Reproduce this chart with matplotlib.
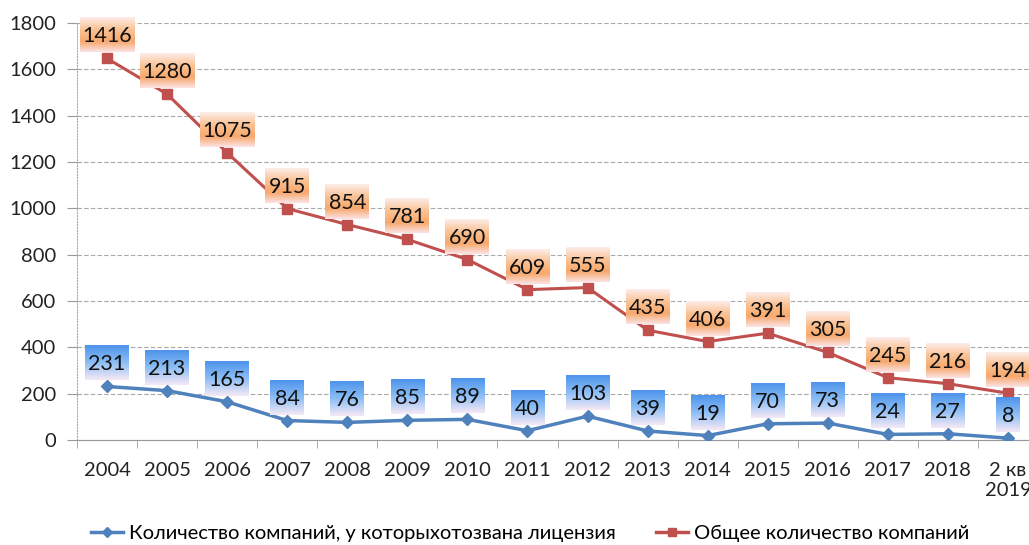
import numpy as np
import matplotlib.pyplot as plt
from matplotlib.lines import Line2D

years = ['2004', '2005', '2006', '2007', '2008', '2009', '2010', '2011',
         '2012', '2013', '2014', '2015', '2016', '2017', '2018', '2 кв\n2019']
revoked = [231, 213, 165, 84, 76, 85, 89, 40, 103, 39, 19, 70, 73, 24, 27, 8]
total = [1416, 1280, 1075, 915, 854, 781, 690, 609, 555, 435, 406, 391, 305, 245, 216, 194]

plt.rcParams['font.family'] = ['Lato', 'DejaVu Sans']

# stacked line chart: second series sits on top of the first
stacked = np.array(revoked) + np.array(total)
x = np.arange(len(years))

red = '#C0504D'
blue = '#4F81BD'


def gradient(stops):
    pos = [s[0] for s in stops]
    cols = np.array([s[1] for s in stops]) / 255.0
    t = np.linspace(0, 1, 64)
    g = np.stack([np.interp(t, pos, cols[:, i]) for i in range(3)], axis=1)
    return g[:, None, :]


grad_red = gradient([(0, (253, 236, 232)), (0.35, (250, 195, 150)),
                     (0.7, (247, 168, 108)), (1, (252, 226, 228))])
grad_blue = gradient([(0, (78, 148, 235)), (0.5, (140, 190, 245)),
                      (1, (246, 232, 246))])

fig = plt.figure(figsize=(10.29, 5.45), dpi=100)
ax = fig.add_axes([77 / 1029, 1 - 440 / 545, 961 / 1029, 417 / 545])

ax.plot(x, revoked, color=blue, lw=2.5, marker='D', ms=6, zorder=3)
ax.plot(x, stacked, color=red, lw=2.2, marker='s', ms=7.5, zorder=3)


def label(xi, y, txt, grad):
    w = 0.17 * len(txt) + 0.22
    yc = y + 100
    ax.imshow(grad, extent=[xi - w / 2, xi + w / 2, yc - 74, yc + 74],
              aspect='auto', zorder=4, clip_on=False, interpolation='bilinear')
    ax.text(xi, yc - 5, txt, ha='center', va='center', fontsize=15.5,
            color='#111111', zorder=5)


for i in range(len(years)):
    label(x[i], stacked[i], str(total[i]), grad_red)
    label(x[i], revoked[i], str(revoked[i]), grad_blue)

ax.set_xlim(-0.5, len(years) - 0.5)
ax.set_ylim(0, 1800)
ax.set_yticks(range(0, 1801, 200))
ax.set_xticks(x)
ax.set_xticklabels(years, fontsize=14.5, color='#222222')
ax.set_xticks(np.arange(-0.5, len(years), 1), minor=True)
ax.tick_params(axis='x', which='major', length=0, pad=16)
ax.tick_params(axis='x', which='minor', length=6, color='#999999')
ax.tick_params(axis='y', length=7, color='#999999', pad=8, labelsize=14.5,
               labelcolor='#222222')

ax.grid(axis='y', color='#a8a8a8', ls=(0, (4, 2)), lw=0.8)
ax.set_axisbelow(True)
for s in ['top', 'right']:
    ax.spines[s].set_visible(False)
ax.spines['left'].set_color('#aaaaaa')
ax.spines['left'].set_linestyle(':')
ax.spines['bottom'].set_color('#999999')

handles = [Line2D([], [], color=blue, lw=2.5, marker='D', ms=5),
           Line2D([], [], color=red, lw=2.5, marker='s', ms=6)]
fig.legend(handles, ['Количество компаний, у которыхотозвана лицензия',
                     'Общее количество компаний'],
           loc='lower center', bbox_to_anchor=(0.515, -0.028), ncol=2,
           frameon=False, fontsize=14.5, handlelength=1.6, handletextpad=0.3,
           columnspacing=2.0)

fig.savefig('out.png', dpi=100)
